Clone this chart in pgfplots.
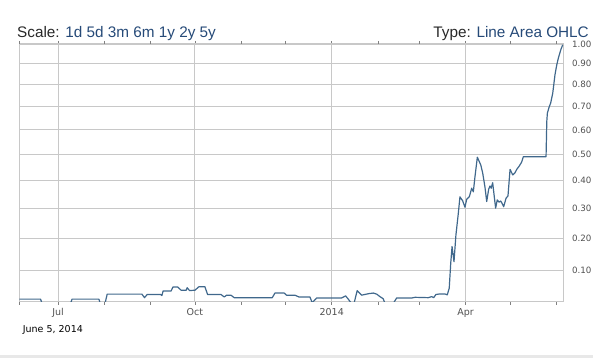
\documentclass[border=0pt]{standalone}
\usepackage{pgfplots}
\pgfplotsset{compat=1.18}
\usepackage{fontspec}
\setmainfont{Liberation Sans}
\newfontfamily\dejavu{DejaVu Sans}
\definecolor{linecol}{RGB}{64,104,140}
\definecolor{gridcol}{RGB}{200,200,200}
\definecolor{hdrblue}{RGB}{38,74,120}
\definecolor{hdrdark}{RGB}{40,40,40}
\definecolor{txtgray}{RGB}{80,80,80}
\begin{document}
\begin{tikzpicture}[x=1pt,y=1pt]
\useasboundingbox (0,0) rectangle (600,358);
\fill[black!9] (0,0) rectangle (592.7,3);
\node[anchor=base west, inner sep=0pt, font=\fontsize{15.3}{18}\selectfont] at (17,320.7)
  {\textcolor{hdrdark}{Scale:} \textcolor{hdrblue}{1d 5d 3m 6m 1y 2y 5y}};
\node[anchor=base east, inner sep=0pt, font=\fontsize{15.3}{18}\selectfont] at (589,320.7)
  {\textcolor{hdrdark}{Type:} \textcolor{hdrblue}{Line Area OHLC}};
\node[anchor=base west, inner sep=0pt, font=\dejavu\fontsize{9.5}{11}\selectfont] at (22.7,25.5) {June 5, 2014};
\begin{axis}[
  at={(19.3pt,56pt)}, anchor=south west,
  scale only axis, width=544pt, height=258pt,
  xmin=-26.1, xmax=339.7,
  ymin=0.01, ymax=1.0,
  y coord trafo/.code={\pgfmathparse{ln(#1+1.13)}},
  y coord inv trafo/.code={\pgfmathparse{exp(#1)-1.13}},
  xtick={0,92,184,274},
  xticklabels={Jul,Oct,2014,Apr},
  extra x ticks={-26,31,62,123,153,215,243,304,335},
  extra x tick labels={},
  extra x tick style={grid=none},
  ytick={0.1,0.2,0.3,0.4,0.5,0.6,0.7,0.8,0.9,1.0},
  yticklabels={0.10,0.20,0.30,0.40,0.50,0.60,0.70,0.80,0.90,1.00},
  yticklabel pos=right,
  grid=major,
  major grid style={draw=gridcol, line width=0.9pt},
  axis line style={draw=gridcol, line width=1pt},
  tick align=outside,
  major tick length=3pt,
  xtick style={draw=gray, line width=0.6pt},
  ytick style={draw=none},
  xticklabel style={font=\dejavu\fontsize{9.5}{11}\selectfont, text=txtgray, anchor=base, yshift=-11pt},
  yticklabel style={font=\dejavu\fontsize{8.7}{10}\selectfont, text=txtgray, anchor=west, inner sep=0pt, xshift=5.5pt},
]
\addplot[color=linecol, line width=1.2pt, line join=round] coordinates {
(-26,0.018) (-11.8,0.018) (-10.3,0) (7.8,0) (9.4,0.018) (27.4,0.018) (28.9,0) (31.2,0) (33.0,0.032) (56.3,0.032) (58.1,0.022) (59.9,0.031) (68.9,0.031) (69.8,0.028) (70.6,0.041) (76.0,0.041) (77.2,0.052) (80.5,0.052) (82.7,0.043) (86.1,0.043) (86.8,0.050) (88.4,0.042) (92.0,0.043) (94.7,0.053) (98.7,0.053) (100.5,0.031) (109.5,0.031) (111.7,0.024) (113.3,0.029) (116.2,0.029) (118.4,0.022) (144.0,0.022) (145.8,0.035) (152.0,0.035) (153.6,0.029) (159.2,0.029) (161.9,0.024) (169.3,0.024) (170.9,0.008) (173.8,0.021) (190.6,0.021) (193.3,0.027) (194.7,0.020) (196.9,0.008) (199.1,0.008) (201.1,0.042) (204.1,0.029) (208.5,0.033) (211.9,0.035) (214.2,0.032) (216.4,0.025) (218.6,0.019) (219.8,0.006) (225.4,0.006) (227.6,0.021) (237.7,0.021) (240,0.023) (248.9,0.022) (251.2,0.025) (252.5,0.022) (254.1,0.031) (256.8,0.0325) (260.1,0.0325) (261.7,0.030) (263.0,0.049) (264.0,0.122) (264.9,0.174) (266.2,0.127) (267.5,0.211) (269.1,0.283) (270.2,0.341) (272.0,0.327) (273.6,0.304) (274.7,0.332) (276.5,0.341) (278.1,0.372) (279.2,0.359) (280.3,0.414) (281.9,0.489) (284.2,0.459) (285.5,0.428) (287.0,0.377) (288.2,0.324) (289.5,0.368) (290.4,0.380) (291.2,0.372) (292.2,0.392) (293.1,0.350) (294.2,0.301) (295.3,0.330) (296.5,0.322) (297.6,0.326) (298.5,0.318) (299.6,0.306) (301.2,0.336) (302.5,0.344) (303.9,0.442) (305.7,0.421) (307.2,0.429) (308.4,0.442) (310.1,0.455) (311.7,0.470) (312.8,0.491) (328.1,0.491) (328.6,0.636) (329.0,0.672) (330.3,0.701) (331.2,0.716) (332.6,0.761) (334.1,0.847) (335.3,0.895) (336.4,0.929) (338.0,0.970) (339.3,0.996)
};
\end{axis}
\end{tikzpicture}
\end{document}
